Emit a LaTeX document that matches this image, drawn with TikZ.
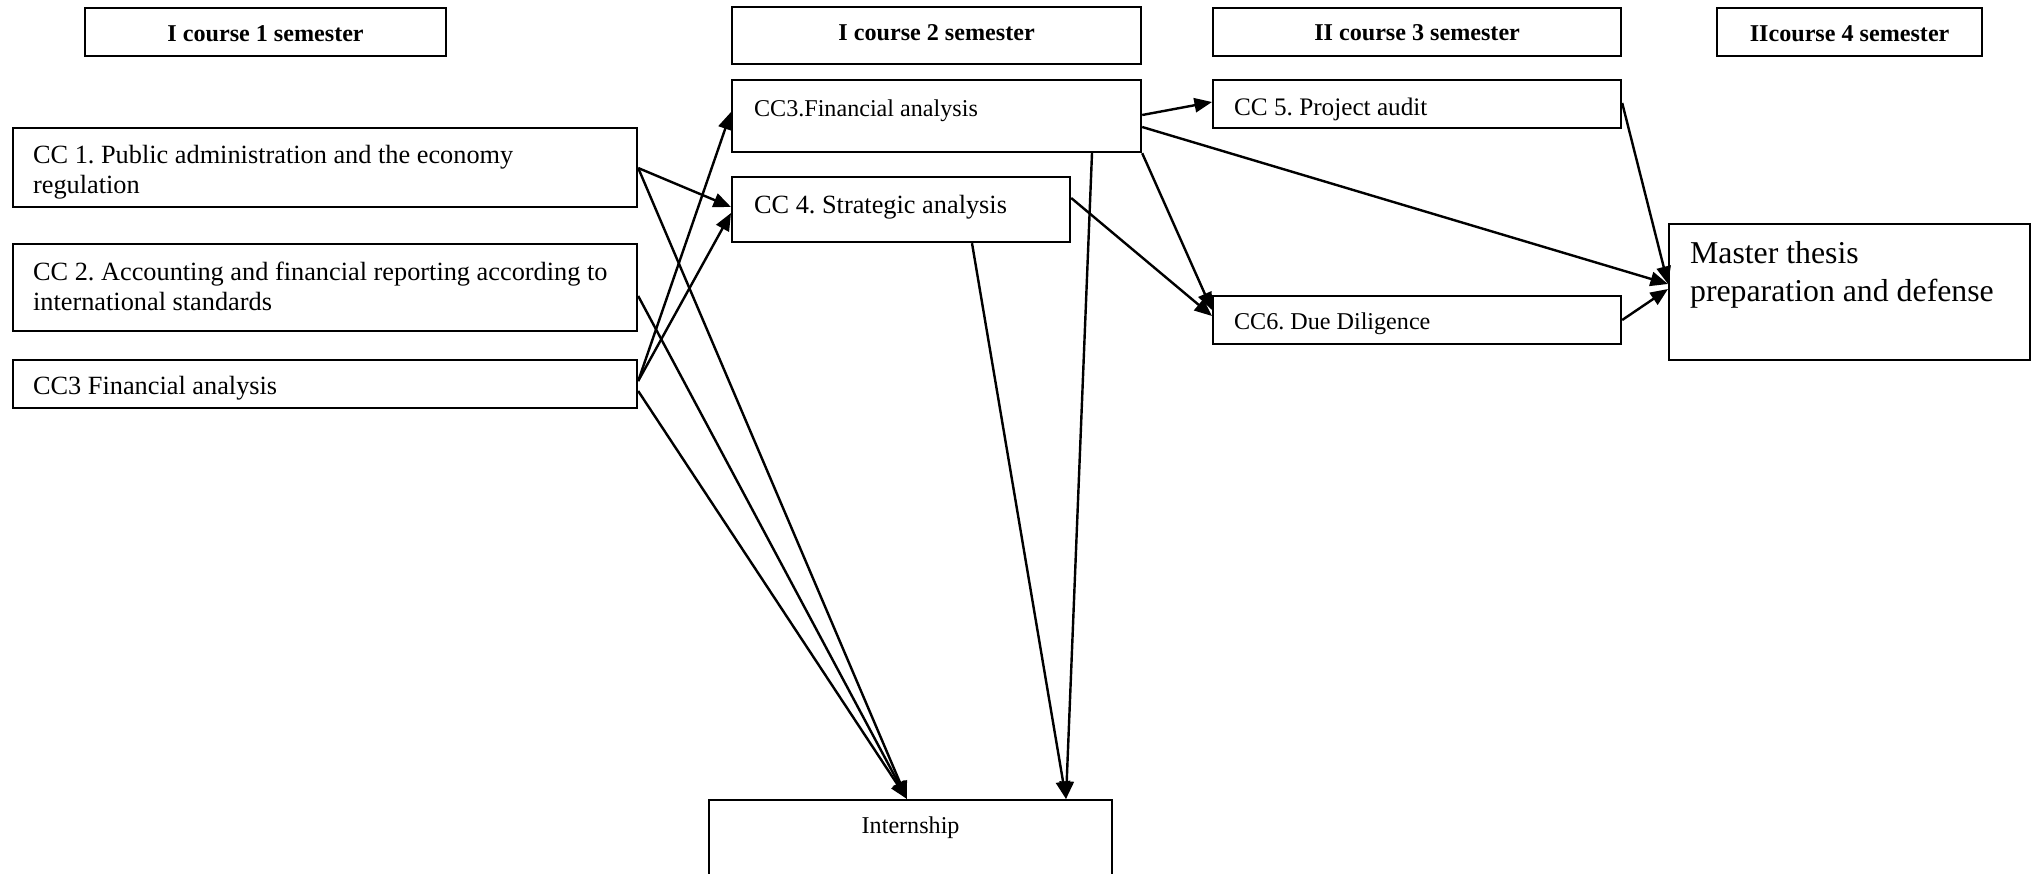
\documentclass[tikz,border=0pt]{standalone}
\usepackage{fontspec}
\setmainfont{Liberation Serif}
\usetikzlibrary{arrows.meta}
\frenchspacing
\newlength\pxu
\setlength\pxu{0.456pt}
% #1 width, #2 height, #3 left pad, #4 first baseline, #5 font, #6 text
\newcommand{\boxtxt}[6]{\parbox[c][#2\pxu][t]{#1\pxu}{#5\frenchspacing\raggedright\setlength{\leftskip}{#3\pxu}\rule{0pt}{#4\pxu}#6}}
% #1 width, #2 height, #3 first baseline, #4 font, #5 text
\newcommand{\ctrtxt}[5]{\parbox[c][#2\pxu][t]{#1\pxu}{#4\frenchspacing\centering\rule{0pt}{#3\pxu}#5}}
\begin{document}
\begin{tikzpicture}[x=0.456pt, y=-0.456pt,
  box/.style={draw, line width=1pt, inner sep=0pt, anchor=north west},
  arr/.style={line width=1.1pt, -{Triangle[length=8pt,width=6.5pt]}}]
\useasboundingbox (0,0) rectangle (2037,874);
\clip (0,0) rectangle (2037,874);
\def\hf{\fontsize{11}{13}\selectfont\bfseries}
\def\tf{\fontsize{12}{13.7}\selectfont}
% headers
\node[box] (h1) at (84,7)   {\ctrtxt{361}{48}{33}{\hf}{I course 1 semester}};
\node[box] (h2) at (731,6)  {\ctrtxt{409}{57}{33}{\hf}{I course 2 semester}};
\node[box] (h3) at (1212,7) {\ctrtxt{408}{48}{32}{\hf}{II course 3 semester}};
\node[box] (h4) at (1716,7) {\ctrtxt{265}{48}{33}{\hf}{IIcourse 4 semester}};
% first column
\node[box] (cc1) at (12,127) {\boxtxt{624}{79}{20}{35}{\tf}{CC 1. Public administration and the economy\\regulation}};
\node[box] (cc2) at (12,243) {\boxtxt{624}{87}{20}{36}{\tf}{CC 2. Accounting and financial reporting according to\\international standards}};
\node[box] (cc3l) at (12,359) {\boxtxt{624}{48}{20}{34}{\tf}{CC3 Financial analysis}};
% second column
\node[box] (cc3m) at (731,79) {\boxtxt{409}{72}{22}{36}{\fontsize{11}{13}\selectfont}{CC3.Financial analysis}};
\node[box] (cc4) at (731,176) {\boxtxt{338}{65}{22}{36}{\tf}{CC 4. Strategic analysis}};
% third column
\node[box] (cc5) at (1212,79) {\boxtxt{408}{48}{21}{35}{\fontsize{11.5}{13}\selectfont}{CC 5. Project audit}};
\node[box] (cc6) at (1212,295) {\boxtxt{408}{48}{21}{33}{\fontsize{11}{13}\selectfont}{CC6. Due Diligence}};
% final
\node[box] (master) at (1668,223) {\boxtxt{361}{136}{21}{39}{\fontsize{14.5}{17.3}\selectfont}{Master thesis\\preparation and defense}};
\node[box] (intern) at (708,799) {\ctrtxt{403}{110}{33}{\fontsize{11}{13}\selectfont}{Internship}};
% connectors
\draw[arr] ([shift={(0,41)}]cc1.north east) -- ([shift={(0,31)}]cc4.north west);
\draw[arr] ([shift={(0,41)}]cc1.north east) -- ([shift={(199,0)}]intern.north west);
\draw[arr] ([shift={(0,53)}]cc2.north east) -- ([shift={(199,0)}]intern.north west);
\draw[arr] ([shift={(0,22)}]cc3l.north east) -- ([shift={(0,33)}]cc3m.north west);
\draw[arr] ([shift={(0,22)}]cc3l.north east) -- ([shift={(0,37)}]cc4.north west);
\draw[arr] ([shift={(0,32)}]cc3l.north east) -- ([shift={(199,0)}]intern.north west);
\draw[arr] ([shift={(241,0)}]cc4.south west) -- ([shift={(358,0)}]intern.north west);
\draw[arr] ([shift={(361,0)}]cc3m.south west) -- ([shift={(358,0)}]intern.north west);
\draw[arr] ([shift={(0,36)}]cc3m.north east) -- ([shift={(0,23)}]cc5.north west);
\draw[arr] ([shift={(0,48)}]cc3m.north east) -- ([shift={(0,61)}]master.north west);
\draw[arr] (cc3m.south east) -- ([shift={(0,15)}]cc6.north west);
\draw[arr] ([shift={(0,22)}]cc4.north east) -- ([shift={(0,21)}]cc6.north west);
\draw[arr] ([shift={(0,24)}]cc5.north east) -- ([shift={(0,61)}]master.north west);
\draw[arr] ([shift={(0,25)}]cc6.north east) -- ([shift={(0,66)}]master.north west);
\end{tikzpicture}
\end{document}
